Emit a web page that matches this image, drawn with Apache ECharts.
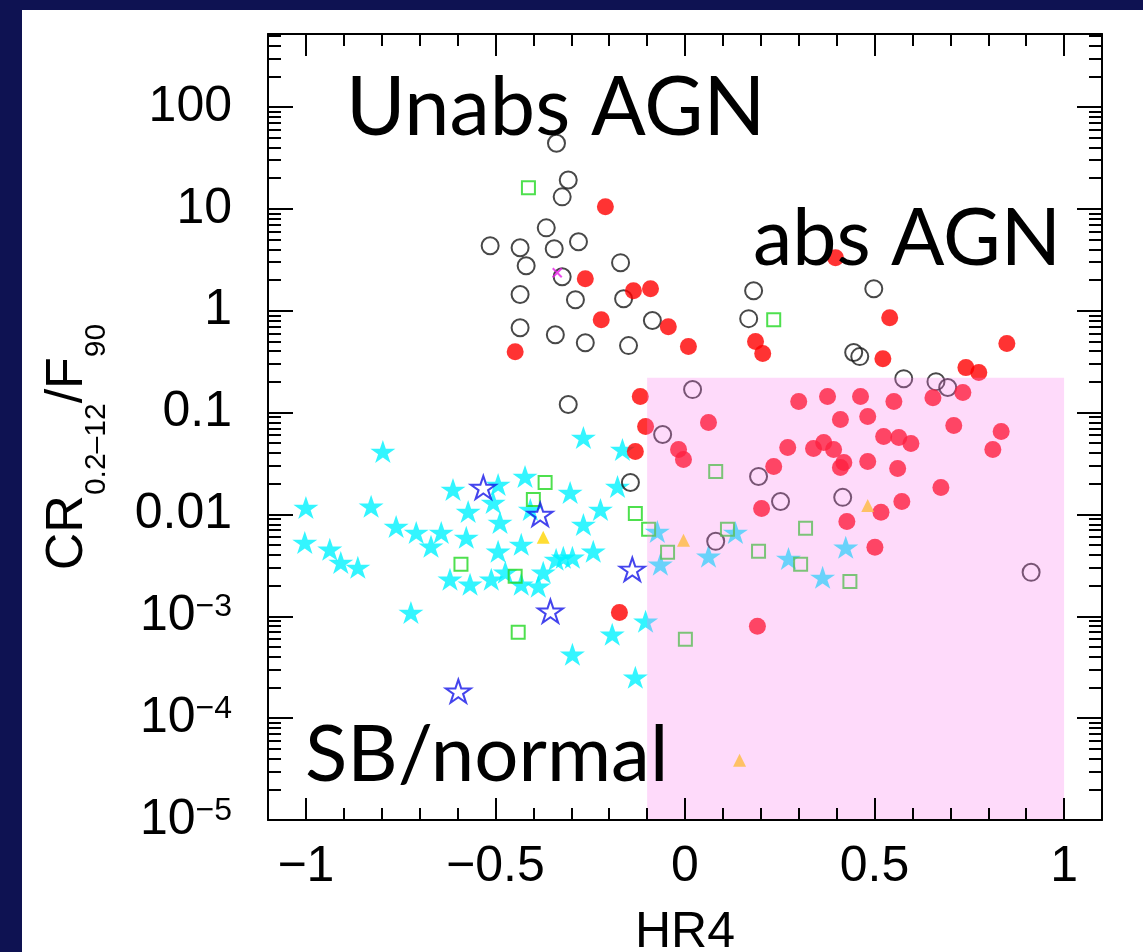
<!DOCTYPE html>
<html>
<head>
<meta charset="utf-8">
<script src="https://cdn.jsdelivr.net/npm/echarts@6/dist/echarts.min.js"></script>
<style>
html,body{margin:0;padding:0;background:#fff;}
#c{width:1143px;height:952px;}
</style>
</head>
<body>
<div id="c"></div>
<script>
// ---- data: [HR4, CR/F90] ----
const openCircles = [
  [-0.339,44],[-0.308,19.2],[-0.324,13.1],[-0.366,6.5],[-0.281,4.75],[-0.514,4.34],
  [-0.435,4.15],[-0.345,4.05],[-0.170,2.96],[-0.419,2.76],[-0.324,2.15],[-0.289,1.28],
  [-0.162,1.31],[-0.435,1.44],[-0.435,0.68],[-0.086,0.80],[-0.342,0.58],[-0.263,0.485],
  [-0.149,0.454],[0.181,1.57],[0.168,0.835],[0.498,1.64],[0.445,0.388],[0.461,0.354],
  [0.577,0.215],[0.662,0.201],[0.693,0.176],[0.020,0.168],[-0.308,0.120],[-0.059,0.0608],
  [-0.144,0.0206],[0.194,0.0236],[0.252,0.0134],[0.416,0.0147],[0.081,0.00544],[0.913,0.0027]
];
const redDots = [
  [-0.448,0.396],[-0.210,10.5],[-0.263,2.06],[-0.136,1.57],[-0.091,1.64],[-0.221,0.816],
  [-0.044,0.697],[0.009,0.444],[0.186,0.497],[0.205,0.379],[0.397,3.31],[0.540,0.854],
  [0.522,0.338],[0.849,0.475],[0.741,0.276],[0.775,0.247],[0.733,0.157],[-0.118,0.1435],
  [-0.104,0.0729],[0.062,0.0798],[0.300,0.128],[0.376,0.1435],[0.463,0.1435],[0.551,0.128],
  [0.654,0.140],[0.410,0.0854],[0.482,0.0914],[0.709,0.0746],[0.834,0.0651],[0.812,0.0434],
  [0.524,0.0582],[0.564,0.0569],[0.596,0.0497],[0.392,0.0434],[0.419,0.0323],[0.410,0.0289],
  [0.482,0.0331],[0.561,0.0282],[0.675,0.0184],[0.517,0.0105],[0.572,0.0134],[0.427,0.00853],
  [0.501,0.00475],[-0.017,0.0434],[-0.004,0.0346],[0.271,0.0454],[0.339,0.0444],[0.366,0.0508],
  [-0.131,0.0415],[0.234,0.0296],[0.202,0.01145],[-0.173,0.00109],[0.191,0.000798]
];
const greenSquares = [
  [-0.413,16.1],[0.234,0.816],[0.081,0.0264],[-0.369,0.0206],[-0.400,0.0140],[-0.131,0.0102],
  [-0.096,0.00713],[0.112,0.00713],[0.318,0.0073],[-0.046,0.00424],[0.194,0.00434],[-0.591,0.00324],
  [-0.448,0.00247],[0.305,0.00324],[0.435,0.0022],[-0.440,0.000697],[0.001,0.000595]
];
const cyanStars = [
  [-0.797,0.0415],[-0.612,0.0176],[-0.493,0.0197],[-0.422,0.0236],[-0.506,0.0131],[-0.408,0.0112],
  [-0.572,0.0107],[-1.000,0.0117],[-0.828,0.0120],[-0.488,0.00835],[-0.762,0.00762],[-0.709,0.00666],
  [-0.643,0.00666],[-0.577,0.00595],[-0.670,0.00486],[-1.003,0.00531],[-0.937,0.00454],[-0.908,0.00338],
  [-0.863,0.00302],[-0.493,0.00434],[-0.432,0.00508],[-0.340,0.00362],[-0.620,0.00231],[-0.567,0.00206],
  [-0.511,0.00231],[-0.474,0.0027],[-0.432,0.00206],[-0.387,0.00197],[-0.374,0.0027],[-0.723,0.00109],
  [-0.268,0.0569],[-0.165,0.0434],[-0.178,0.0188],[-0.303,0.0164],[-0.223,0.0112],[-0.268,0.00798],
  [-0.073,0.00681],[0.133,0.00666],[-0.321,0.00379],[-0.297,0.00379],[-0.242,0.00434],[-0.065,0.00324],
  [0.062,0.00388],[0.273,0.0037],[0.363,0.00241],[0.424,0.00475],[-0.104,0.000893],[-0.192,0.000667],
  [-0.297,0.000424],[-0.131,0.000252]
];
const blueStars = [[-0.532,0.0184],[-0.382,0.0100],[-0.139,0.00289],[-0.355,0.00112],[-0.598,0.000184]];
const yellowTriangles = [[-0.374,0.00595],[-0.004,0.00556],[0.482,0.01225],[0.144,0.0000387]];
const magentaCross = [[-0.337,2.36]];
const pinkRegion = [[-0.1, 0.00001, 1.0, 0.22]];

// ---- axes ----
const xMajorTicks = [-1, -0.5, 0, 0.5, 1];
const xMinorTicks = [-0.9,-0.8,-0.7,-0.6,-0.4,-0.3,-0.2,-0.1,0.1,0.2,0.3,0.4,0.6,0.7,0.8,0.9];
const yMajorTicks = [0.00001, 0.0001, 0.001, 0.01, 0.1, 1, 10, 100];
const yTickLabels = ['{b|10}{s|−5}','{b|10}{s|−4}','{b|10}{s|−3}','0.01','0.1','1','10','100'];
const yMinorTicks = [
  0.00002,0.00003,0.00004,0.00005,0.00006,0.00007,0.00008,0.00009,
  0.0002,0.0003,0.0004,0.0005,0.0006,0.0007,0.0008,0.0009,
  0.002,0.003,0.004,0.005,0.006,0.007,0.008,0.009,
  0.02,0.03,0.04,0.05,0.06,0.07,0.08,0.09,
  0.2,0.3,0.4,0.5,0.6,0.7,0.8,0.9,
  2,3,4,5,6,7,8,9,
  20,30,40,50,60,70,80,90,
  200,300,400,500
];
const X_MIN = -1.1, X_MAX = 1.1, Y_MIN = 0.00001, Y_MAX = 520;

const NAVY = '#0e1252';
const FONT = 'Liberation Sans, Arial, Helvetica, sans-serif';
const ANNOT_FONT = 'Lato, "Open Sans", sans-serif';
const STAR = 'path://M12,0 L14.69,8.29 L23.41,8.29 L16.36,13.42 L19.05,21.71 L12,16.58 L4.95,21.71 L7.64,13.42 L0.59,8.29 L9.31,8.29 Z';

const tickLine = {color: '#000', width: 2};
function xAxisDef(grid, pos, major) {
  return {
    gridIndex: grid, type: 'value', position: pos, min: X_MIN, max: X_MAX, z: 6,
    axisLine: {show: major, onZero: false, lineStyle: {color: '#000', width: 2}},
    axisTick: {show: true, inside: true, length: major ? 22 : 12,
               customValues: major ? xMajorTicks : xMinorTicks, lineStyle: tickLine},
    axisLabel: (major && pos === 'bottom') ? {
      show: true, customValues: xMajorTicks, margin: 22, fontSize: 50,
      fontFamily: FONT, color: '#000',
      formatter: v => String(v).replace('-', '\u2212')
    } : {show: false},
    splitLine: {show: false}
  };
}
function yAxisDef(grid, pos, major) {
  const d = {
    gridIndex: grid, type: 'log', logBase: 10, position: pos, min: Y_MIN, max: Y_MAX, z: 6,
    axisLine: {show: major, onZero: false, lineStyle: {color: '#000', width: 2}},
    axisTick: {show: true, inside: true, length: major ? 25 : 13,
               customValues: major ? yMajorTicks : yMinorTicks, lineStyle: tickLine},
    axisLabel: {show: false},
    splitLine: {show: false}
  };
  if (major && pos === 'left') {
    d.axisLabel = {
      show: true, customValues: yMajorTicks, margin: 36, fontSize: 50,
      fontFamily: FONT, color: '#000',
      formatter: function (v) {
        let best = 0, bd = Infinity;
        yMajorTicks.forEach((t, i) => {
          const dd = Math.abs(Math.log10(t) - Math.log10(v));
          if (dd < bd) { bd = dd; best = i; }
        });
        return yTickLabels[best];
      },
      rich: {
        b: {fontSize: 50, lineHeight: 50, fontFamily: FONT, color: '#000', verticalAlign: 'top'},
        s: {fontSize: 32, lineHeight: 32, fontFamily: FONT, color: '#000', verticalAlign: 'top'}
      }
    };
    d.name = '{b|CR}{s|0.2–12}{b|/F}{s|90}';
    d.nameLocation = 'middle';
    d.nameRotate = 90;
    d.nameGap = 174;
    d.nameMoveOverlap = false;
    d.nameTextStyle = {
      fontFamily: FONT, color: '#000', padding: [0, 40, 0, 0],
      rich: {
        b: {fontSize: 52, lineHeight: 52, fontFamily: FONT, color: '#000', verticalAlign: 'top'},
        s: {fontSize: 30, lineHeight: 30, fontFamily: FONT, color: '#000', verticalAlign: 'top', padding: [40, 0, 0, 0]}
      }
    };
  }
  return d;
}

const xAxes = [xAxisDef(0, 'bottom', true), xAxisDef(0, 'bottom', false),
               xAxisDef(1, 'top', true), xAxisDef(1, 'top', false)];
xAxes[0].name = 'HR4';
xAxes[0].nameLocation = 'middle';
xAxes[0].nameGap = 88;
xAxes[0].nameMoveOverlap = false;
xAxes[0].nameTextStyle = {fontFamily: FONT, fontSize: 50, color: '#000'};

const yAxes = [yAxisDef(0, 'left', true), yAxisDef(0, 'left', false),
               yAxisDef(1, 'right', true), yAxisDef(1, 'right', false)];

function scatter(name, data, symbol, size, itemStyle, z) {
  return {name, type: 'scatter', xAxisIndex: 0, yAxisIndex: 0, data, symbol, symbolSize: size,
          itemStyle, z: z, silent: true, clip: true};
}

const gridRect = {left: 268, top: 34, right: 41, bottom: 132, containLabel: false, outerBoundsMode: 'none'};

const option = {
  animation: false,
  backgroundColor: '#ffffff',
  grid: [Object.assign({}, gridRect), Object.assign({}, gridRect)],
  xAxis: xAxes,
  yAxis: yAxes,
  series: [
    scatter('SB stars', cyanStars, STAR, [25, 23], {color: '#00f2ff'}, 2),
    scatter('unabs circles', openCircles, 'circle', 17, {color: 'rgba(0,0,0,0)', borderColor: '#1a1a1a', borderWidth: 2}, 2),
    scatter('abs dots', redDots, 'circle', 17, {color: '#ff0000'}, 2),
    scatter('green squares', greenSquares, 'rect', 13, {color: 'rgba(0,0,0,0)', borderColor: '#22d822', borderWidth: 2}, 2),
    scatter('blue stars', blueStars, STAR, [25, 23], {color: 'rgba(0,0,0,0)', borderColor: '#1515e8', borderWidth: 2}, 2),
    scatter('yellow triangles', yellowTriangles, 'triangle', 13, {color: '#ffd400'}, 2),
    scatter('magenta cross', magentaCross, 'path://M0,0L10,10M10,0L0,10', 9, {color: 'rgba(0,0,0,0)', borderColor: '#e81ee8', borderWidth: 2}, 2),
    {
      type: 'custom', xAxisIndex: 0, yAxisIndex: 0, z: 4, silent: true,
      data: pinkRegion,
      encode: {x: [0, 2], y: [1, 3]},
      renderItem: function (params, api) {
        const p0 = api.coord([api.value(0), api.value(1)]);
        const p1 = api.coord([api.value(2), api.value(3)]);
        return {type: 'rect',
                shape: {x: p0[0], y: p1[1], width: p1[0] - p0[0], height: p0[1] - p1[1]},
                style: {fill: 'rgba(250,120,235,0.27)'}};
      }
    }
  ],
  graphic: [
    {type: 'rect', left: 0, top: 0, z: 100, shape: {width: 22, height: 952}, style: {fill: NAVY}},
    {type: 'rect', left: 0, top: 0, z: 100, shape: {width: 1143, height: 10}, style: {fill: NAVY}},
    {type: 'text', x: 346, y: 109, z: 50,
     style: {text: 'Unabs AGN', fontSize: 81, fontFamily: ANNOT_FONT, fill: '#000', verticalAlign: 'middle', align: 'left'}},
    {type: 'text', x: 753, y: 240, z: 50,
     style: {text: 'abs AGN', fontSize: 79, fontFamily: ANNOT_FONT, fill: '#000', verticalAlign: 'middle', align: 'left'}},
    {type: 'text', x: 305, y: 756, z: 50,
     style: {text: 'SB/normal', fontSize: 78, fontFamily: ANNOT_FONT, fill: '#000', verticalAlign: 'middle', align: 'left'}}
  ]
};

const chart = echarts.init(document.getElementById('c'), null, {renderer: 'canvas'});
chart.setOption(option);
</script>
</body>
</html>
